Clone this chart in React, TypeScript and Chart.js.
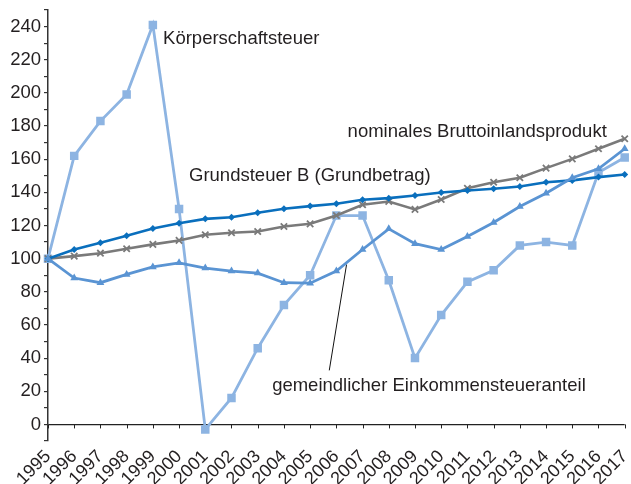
import React, { useEffect, useRef } from "react";
import { Chart, registerables } from "chart.js";

Chart.register(...registerables);

const years = ["1995","1996","1997","1998","1999","2000","2001","2002","2003","2004","2005","2006","2007","2008","2009","2010","2011","2012","2013","2014","2015","2016","2017"];

const koerperschaftsteuer = [100,162,183,199,241,130,-3,16,46,72,90,126,126,87,40,66,86,93,108,110,108,152,161];
const einkommensteueranteil = [100,88.3,85.5,90.5,95,97.5,94.3,92.5,91.3,85.5,85.2,92.5,105.5,118,109,105.5,113.4,121.8,131.5,139.5,148.8,154.2,166.3];
const grundsteuerB = [100,105.5,109.6,113.8,118.2,121.4,124,125,127.7,130.1,131.7,133.1,135.5,136.5,138.1,139.9,141.1,142.2,143.5,146.1,147.2,149.2,150.8];
const bip = [100,101.5,103.3,106,108.6,111,114.4,115.6,116.4,119.4,121,126,132.5,134.5,129.7,135.7,142.5,146.1,148.8,154.6,160.2,166.3,172.3];

const yMin = -10;
const yMax = 250;

// annotation texts anchored in data space (category index, value)
const annotationTexts = ["Körperschaftsteuer", "Grundsteuer B (Grundbetrag)", "nominales Bruttoinlandsprodukt", "gemeindlicher Einkommensteueranteil"];
const annotationX = [4.39, 5.38, 11.43, 8.55];
const annotationY = [232.5, 150.2, 176.7, 23.5];
const leaderFrom = [10.73, 32.6];
const leaderTo = [11.39, 96.5];

const FONT = "'Liberation Sans', Arial, Helvetica, sans-serif";
const TEXT = "#231f20";

export default function App() {
  const ref = useRef<HTMLCanvasElement | null>(null);
  useEffect(() => {
    if (!ref.current) return;
    const plugin = {
      id: "annot",
      beforeDatasetsDraw(chart: any) {
        const { ctx, scales } = chart;
        const x = scales.x, y = scales.y;
        const y0 = y.getPixelForValue(0);
        ctx.save();
        ctx.strokeStyle = "#222";
        ctx.lineWidth = 1;
        years.forEach((_, i) => {
          const px = Math.round(x.getPixelForValue(i)) + 0.5;
          ctx.beginPath();
          ctx.moveTo(px, y0);
          ctx.lineTo(px, y0 + 4);
          ctx.stroke();
        });
        ctx.strokeStyle = "#111";
        ctx.lineWidth = 1;
        ctx.beginPath();
        ctx.moveTo(x.getPixelForValue(leaderFrom[0]), y.getPixelForValue(leaderFrom[1]));
        ctx.lineTo(x.getPixelForValue(leaderTo[0]), y.getPixelForValue(leaderTo[1]));
        ctx.stroke();
        ctx.restore();
      },
      afterDatasetsDraw(chart: any) {
        const { ctx, scales } = chart;
        const x = scales.x, y = scales.y;
        ctx.save();
        ctx.fillStyle = TEXT;
        ctx.font = `18.5px ${FONT}`;
        ctx.textAlign = "left";
        ctx.textBaseline = "middle";
        annotationTexts.forEach((t, i) => {
          ctx.fillText(t, x.getPixelForValue(annotationX[i]), y.getPixelForValue(annotationY[i]));
        });
        ctx.restore();
      },
    };

    const chart = new Chart(ref.current, {
      type: "line",
      data: {
        labels: years,
        datasets: [
          {
            label: "gemeindlicher Einkommensteueranteil",
            data: einkommensteueranteil,
            borderColor: "#5a94d3",
            backgroundColor: "#5a94d3",
            borderWidth: 2.8,
            pointStyle: "triangle",
            pointRadius: 4.5,
            pointBorderWidth: 0,
            tension: 0,
          },
          {
            label: "Grundsteuer B (Grundbetrag)",
            data: grundsteuerB,
            borderColor: "#0a6fbd",
            backgroundColor: "#0a6fbd",
            borderWidth: 2.6,
            pointStyle: "rectRot",
            pointRadius: 3.5,
            pointBorderWidth: 0,
            tension: 0,
          },
          {
            label: "nominales Bruttoinlandsprodukt",
            data: bip,
            borderColor: "#7a7a7a",
            backgroundColor: "#7a7a7a",
            borderWidth: 2.6,
            pointStyle: "crossRot",
            pointRadius: 4.5,
            pointBorderWidth: 1.8,
            tension: 0,
          },
          {
            label: "Körperschaftsteuer",
            data: koerperschaftsteuer,
            borderColor: "#8db4e2",
            backgroundColor: "#8db4e2",
            borderWidth: 2.8,
            pointStyle: "rect",
            pointRadius: 6,
            pointBorderWidth: 0,
            tension: 0,
          },
        ],
      },
      options: {
        responsive: false,
        animation: false,
        devicePixelRatio: 1,
        layout: { padding: { top: 10, right: 5, left: 0, bottom: 0 } },
        plugins: { legend: { display: false }, tooltip: { enabled: false } },
        scales: {
          x: {
            type: "category",
            offset: false,
            grid: { display: false, drawTicks: false },
            border: { display: false },
            ticks: {
              autoSkip: false,
              minRotation: 45,
              maxRotation: 45,
              padding: 5,
              color: TEXT,
              font: { family: FONT, size: 18 },
            },
            afterFit(scale: any) {
              scale.height = 43;
              scale.paddingLeft = 0;
              scale.paddingRight = 0;
            },
          },
          y: {
            min: yMin,
            max: yMax,
            ticks: {
              stepSize: 10,
              autoSkip: false,
              padding: 3,
              color: TEXT,
              font: { family: FONT, size: 18.5 },
              callback: (v: any) => (Number(v) % 20 === 0 ? String(v) : ""),
            },
            grid: {
              drawOnChartArea: true,
              drawTicks: true,
              tickLength: 4,
              color: (c: any) => (c.tick && c.tick.value === 0 ? "#222" : "rgba(0,0,0,0)"),
              tickColor: "#333",
              lineWidth: 1.2,
            },
            border: { display: true, color: "#333", width: 1.5 },
            afterFit(scale: any) {
              scale.width = 48;
              scale.paddingTop = 0;
              scale.paddingBottom = 0;
            },
          },
        },
      },
      plugins: [plugin],
    } as any);
    return () => chart.destroy();
  }, []);

  return (
    <div style={{ position: "absolute", left: 0, top: 0, width: 631, height: 484 }}>
      <canvas ref={ref} width={631} height={484} style={{ width: 631, height: 484 }} />
    </div>
  );
}
